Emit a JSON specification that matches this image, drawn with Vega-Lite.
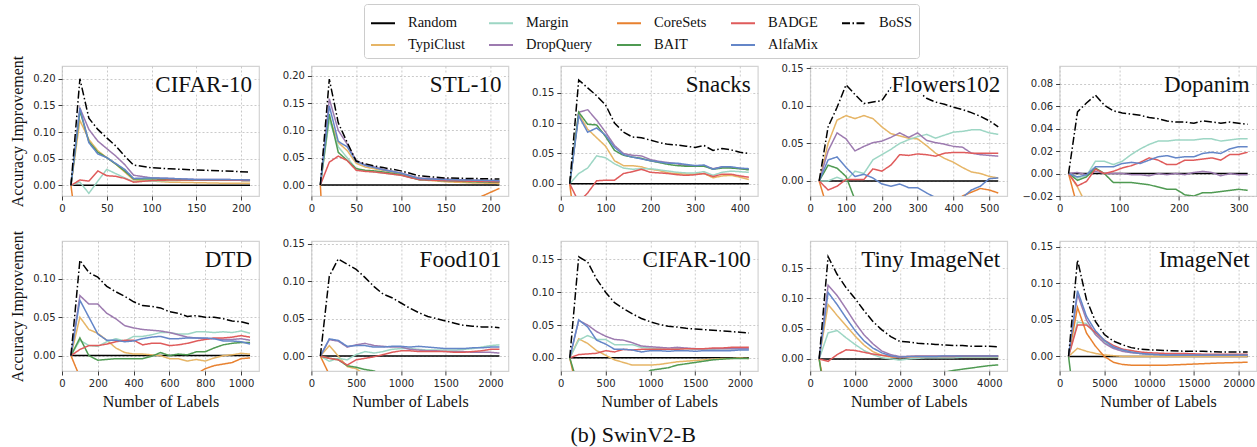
{
"$schema": "https://vega.github.io/schema/vega-lite/v6.json",
"padding": {"left": 9, "top": 3, "right": 0, "bottom": 2},
"background": "white",
"datasets": {"all": [
{"d":"CIFAR-10","x":10,"Random":0,"TypiClust":0,"Margin":0,"DropQuery":0,"CoreSets":0,"BAIT":0,"BADGE":0,"AlfaMix":0,"BoSS":0},
{"d":"CIFAR-10","x":20,"Random":0,"TypiClust":0.122,"Margin":0.006,"DropQuery":0.145,"CoreSets":-0.13,"BAIT":0.14,"BADGE":0.01,"AlfaMix":0.145,"BoSS":0.2},
{"d":"CIFAR-10","x":30,"Random":0,"TypiClust":0.086,"Margin":-0.015,"DropQuery":0.105,"CoreSets":-0.1,"BAIT":0.082,"BADGE":0.008,"AlfaMix":0.08,"BoSS":0.126},
{"d":"CIFAR-10","x":40,"Random":0,"TypiClust":0.065,"Margin":0.008,"DropQuery":0.083,"CoreSets":-0.08,"BAIT":0.062,"BADGE":0.027,"AlfaMix":0.059,"BoSS":0.105},
{"d":"CIFAR-10","x":50,"Random":0,"TypiClust":0.052,"Margin":0.03,"DropQuery":0.069,"CoreSets":-0.07,"BAIT":0.052,"BADGE":0.018,"AlfaMix":0.052,"BoSS":0.089},
{"d":"CIFAR-10","x":60,"Random":0,"TypiClust":0.04,"Margin":0.022,"DropQuery":0.055,"CoreSets":-0.06,"BAIT":0.04,"BADGE":0.017,"AlfaMix":0.041,"BoSS":0.074},
{"d":"CIFAR-10","x":70,"Random":0,"TypiClust":0.025,"Margin":0.014,"DropQuery":0.039,"CoreSets":-0.05,"BAIT":0.027,"BADGE":0.013,"AlfaMix":0.03,"BoSS":0.055},
{"d":"CIFAR-10","x":80,"Random":0,"TypiClust":0.01,"Margin":0.007,"DropQuery":0.019,"CoreSets":-0.045,"BAIT":0.012,"BADGE":0.006,"AlfaMix":0.013,"BoSS":0.038},
{"d":"CIFAR-10","x":100,"Random":0,"TypiClust":0.008,"Margin":0.008,"DropQuery":0.014,"CoreSets":-0.04,"BAIT":0.012,"BADGE":0.009,"AlfaMix":0.014,"BoSS":0.033},
{"d":"CIFAR-10","x":120,"Random":0,"TypiClust":0.006,"Margin":0.009,"DropQuery":0.013,"CoreSets":-0.035,"BAIT":0.011,"BADGE":0.01,"AlfaMix":0.013,"BoSS":0.031},
{"d":"CIFAR-10","x":150,"Random":0,"TypiClust":0.005,"Margin":0.01,"DropQuery":0.011,"CoreSets":-0.03,"BAIT":0.01,"BADGE":0.01,"AlfaMix":0.011,"BoSS":0.029},
{"d":"CIFAR-10","x":180,"Random":0,"TypiClust":0.004,"Margin":0.01,"DropQuery":0.011,"CoreSets":-0.03,"BAIT":0.01,"BADGE":0.01,"AlfaMix":0.011,"BoSS":0.027},
{"d":"CIFAR-10","x":210,"Random":0,"TypiClust":0.004,"Margin":0.009,"DropQuery":0.01,"CoreSets":-0.03,"BAIT":0.009,"BADGE":0.009,"AlfaMix":0.01,"BoSS":0.025},

{"d":"STL-10","x":10,"Random":0,"TypiClust":0,"Margin":0,"DropQuery":0,"CoreSets":0,"BAIT":0,"BADGE":0,"AlfaMix":0,"BoSS":0},
{"d":"STL-10","x":20,"Random":0,"TypiClust":0.124,"Margin":0.12,"DropQuery":0.158,"CoreSets":-0.3,"BAIT":0.13,"BADGE":0.042,"AlfaMix":0.145,"BoSS":0.194},
{"d":"STL-10","x":30,"Random":0,"TypiClust":0.078,"Margin":0.07,"DropQuery":0.1,"CoreSets":-0.25,"BAIT":0.06,"BADGE":0.053,"AlfaMix":0.08,"BoSS":0.114},
{"d":"STL-10","x":40,"Random":0,"TypiClust":0.063,"Margin":0.05,"DropQuery":0.075,"CoreSets":-0.22,"BAIT":0.045,"BADGE":0.045,"AlfaMix":0.07,"BoSS":0.078},
{"d":"STL-10","x":50,"Random":0,"TypiClust":0.04,"Margin":0.03,"DropQuery":0.045,"CoreSets":-0.2,"BAIT":0.03,"BADGE":0.027,"AlfaMix":0.043,"BoSS":0.044},
{"d":"STL-10","x":60,"Random":0,"TypiClust":0.033,"Margin":0.026,"DropQuery":0.037,"CoreSets":-0.18,"BAIT":0.027,"BADGE":0.025,"AlfaMix":0.036,"BoSS":0.039},
{"d":"STL-10","x":70,"Random":0,"TypiClust":0.03,"Margin":0.024,"DropQuery":0.033,"CoreSets":-0.16,"BAIT":0.026,"BADGE":0.024,"AlfaMix":0.032,"BoSS":0.035},
{"d":"STL-10","x":80,"Random":0,"TypiClust":0.027,"Margin":0.022,"DropQuery":0.029,"CoreSets":-0.14,"BAIT":0.024,"BADGE":0.022,"AlfaMix":0.028,"BoSS":0.032},
{"d":"STL-10","x":100,"Random":0,"TypiClust":0.02,"Margin":0.018,"DropQuery":0.022,"CoreSets":-0.11,"BAIT":0.019,"BADGE":0.018,"AlfaMix":0.022,"BoSS":0.026},
{"d":"STL-10","x":120,"Random":0,"TypiClust":0.01,"Margin":0.01,"DropQuery":0.013,"CoreSets":-0.09,"BAIT":0.01,"BADGE":0.01,"AlfaMix":0.012,"BoSS":0.017},
{"d":"STL-10","x":150,"Random":0,"TypiClust":0.006,"Margin":0.008,"DropQuery":0.011,"CoreSets":-0.06,"BAIT":0.008,"BADGE":0.008,"AlfaMix":0.01,"BoSS":0.013},
{"d":"STL-10","x":180,"Random":0,"TypiClust":0.004,"Margin":0.007,"DropQuery":0.009,"CoreSets":-0.028,"BAIT":0.006,"BADGE":0.007,"AlfaMix":0.009,"BoSS":0.012},
{"d":"STL-10","x":210,"Random":0,"TypiClust":0.003,"Margin":0.006,"DropQuery":0.008,"CoreSets":-0.006,"BAIT":0.005,"BADGE":0.006,"AlfaMix":0.008,"BoSS":0.011},

{"d":"Snacks","x":20,"Random":0,"TypiClust":0,"Margin":0,"DropQuery":0,"CoreSets":0,"BAIT":0,"BADGE":0,"AlfaMix":0,"BoSS":0},
{"d":"Snacks","x":40,"Random":0,"TypiClust":0.115,"Margin":0.017,"DropQuery":0.118,"CoreSets":-0.12,"BAIT":0.118,"BADGE":-0.03,"AlfaMix":0.112,"BoSS":0.171},
{"d":"Snacks","x":60,"Random":0,"TypiClust":0.09,"Margin":0.026,"DropQuery":0.122,"CoreSets":-0.1,"BAIT":0.098,"BADGE":-0.015,"AlfaMix":0.085,"BoSS":0.158},
{"d":"Snacks","x":80,"Random":0,"TypiClust":0.076,"Margin":0.046,"DropQuery":0.105,"CoreSets":-0.09,"BAIT":0.097,"BADGE":0.005,"AlfaMix":0.092,"BoSS":0.145},
{"d":"Snacks","x":100,"Random":0,"TypiClust":0.062,"Margin":0.043,"DropQuery":0.085,"CoreSets":-0.08,"BAIT":0.078,"BADGE":0.006,"AlfaMix":0.08,"BoSS":0.13},
{"d":"Snacks","x":120,"Random":0,"TypiClust":0.038,"Margin":0.033,"DropQuery":0.063,"CoreSets":-0.08,"BAIT":0.055,"BADGE":0.006,"AlfaMix":0.06,"BoSS":0.1},
{"d":"Snacks","x":140,"Random":0,"TypiClust":0.03,"Margin":0.026,"DropQuery":0.05,"CoreSets":-0.07,"BAIT":0.047,"BADGE":0.017,"AlfaMix":0.048,"BoSS":0.085},
{"d":"Snacks","x":160,"Random":0,"TypiClust":0.03,"Margin":0.024,"DropQuery":0.047,"CoreSets":-0.07,"BAIT":0.044,"BADGE":0.02,"AlfaMix":0.044,"BoSS":0.077},
{"d":"Snacks","x":180,"Random":0,"TypiClust":0.028,"Margin":0.025,"DropQuery":0.046,"CoreSets":-0.07,"BAIT":0.042,"BADGE":0.024,"AlfaMix":0.041,"BoSS":0.076},
{"d":"Snacks","x":200,"Random":0,"TypiClust":0.024,"Margin":0.025,"DropQuery":0.04,"CoreSets":-0.06,"BAIT":0.038,"BADGE":0.019,"AlfaMix":0.038,"BoSS":0.072},
{"d":"Snacks","x":220,"Random":0,"TypiClust":0.022,"Margin":0.023,"DropQuery":0.037,"CoreSets":-0.06,"BAIT":0.035,"BADGE":0.018,"AlfaMix":0.036,"BoSS":0.068},
{"d":"Snacks","x":240,"Random":0,"TypiClust":0.018,"Margin":0.021,"DropQuery":0.035,"CoreSets":-0.06,"BAIT":0.032,"BADGE":0.017,"AlfaMix":0.034,"BoSS":0.065},
{"d":"Snacks","x":260,"Random":0,"TypiClust":0.017,"Margin":0.019,"DropQuery":0.033,"CoreSets":-0.06,"BAIT":0.03,"BADGE":0.015,"AlfaMix":0.034,"BoSS":0.064},
{"d":"Snacks","x":280,"Random":0,"TypiClust":0.016,"Margin":0.018,"DropQuery":0.03,"CoreSets":-0.05,"BAIT":0.029,"BADGE":0.014,"AlfaMix":0.032,"BoSS":0.062},
{"d":"Snacks","x":300,"Random":0,"TypiClust":0.016,"Margin":0.018,"DropQuery":0.029,"CoreSets":-0.05,"BAIT":0.029,"BADGE":0.015,"AlfaMix":0.03,"BoSS":0.06},
{"d":"Snacks","x":320,"Random":0,"TypiClust":0.017,"Margin":0.02,"DropQuery":0.03,"CoreSets":-0.05,"BAIT":0.029,"BADGE":0.017,"AlfaMix":0.031,"BoSS":0.063},
{"d":"Snacks","x":340,"Random":0,"TypiClust":0.01,"Margin":0.014,"DropQuery":0.025,"CoreSets":-0.05,"BAIT":0.024,"BADGE":0.012,"AlfaMix":0.024,"BoSS":0.055},
{"d":"Snacks","x":360,"Random":0,"TypiClust":0.013,"Margin":0.019,"DropQuery":0.028,"CoreSets":-0.05,"BAIT":0.026,"BADGE":0.016,"AlfaMix":0.028,"BoSS":0.058},
{"d":"Snacks","x":380,"Random":0,"TypiClust":0.014,"Margin":0.021,"DropQuery":0.027,"CoreSets":-0.05,"BAIT":0.026,"BADGE":0.016,"AlfaMix":0.028,"BoSS":0.056},
{"d":"Snacks","x":400,"Random":0,"TypiClust":0.011,"Margin":0.02,"DropQuery":0.025,"CoreSets":-0.05,"BAIT":0.025,"BADGE":0.013,"AlfaMix":0.026,"BoSS":0.052},
{"d":"Snacks","x":420,"Random":0,"TypiClust":0.007,"Margin":0.019,"DropQuery":0.024,"CoreSets":-0.05,"BAIT":0.023,"BADGE":0.011,"AlfaMix":0.025,"BoSS":0.05},

{"d":"Flowers102","x":25,"Random":0,"TypiClust":0,"Margin":0,"DropQuery":0,"CoreSets":0,"BAIT":0,"BADGE":0,"AlfaMix":0,"BoSS":0},
{"d":"Flowers102","x":50,"Random":0,"TypiClust":0.05,"Margin":0,"DropQuery":0.04,"CoreSets":-0.04,"BAIT":0.021,"BADGE":-0.012,"AlfaMix":0.028,"BoSS":0.072},
{"d":"Flowers102","x":75,"Random":0,"TypiClust":0.081,"Margin":0.005,"DropQuery":0.064,"CoreSets":-0.05,"BAIT":0.017,"BADGE":-0.007,"AlfaMix":0.032,"BoSS":0.098},
{"d":"Flowers102","x":100,"Random":0,"TypiClust":0.087,"Margin":0,"DropQuery":0.056,"CoreSets":-0.05,"BAIT":0.006,"BADGE":0.002,"AlfaMix":0.018,"BoSS":0.128},
{"d":"Flowers102","x":125,"Random":0,"TypiClust":0.083,"Margin":0.013,"DropQuery":0.04,"CoreSets":-0.05,"BAIT":-0.025,"BADGE":0.002,"AlfaMix":0.006,"BoSS":0.115},
{"d":"Flowers102","x":150,"Random":0,"TypiClust":0.087,"Margin":0.01,"DropQuery":0.046,"CoreSets":-0.05,"BAIT":-0.05,"BADGE":0.002,"AlfaMix":0.009,"BoSS":0.103},
{"d":"Flowers102","x":175,"Random":0,"TypiClust":0.083,"Margin":0.028,"DropQuery":0.051,"CoreSets":-0.05,"BAIT":-0.05,"BADGE":0.016,"AlfaMix":0.004,"BoSS":0.105},
{"d":"Flowers102","x":200,"Random":0,"TypiClust":0.072,"Margin":0.035,"DropQuery":0.053,"CoreSets":-0.05,"BAIT":-0.05,"BADGE":0.013,"AlfaMix":-0.004,"BoSS":0.107},
{"d":"Flowers102","x":225,"Random":0,"TypiClust":0.063,"Margin":0.042,"DropQuery":0.058,"CoreSets":-0.05,"BAIT":-0.05,"BADGE":0.021,"AlfaMix":-0.007,"BoSS":0.124},
{"d":"Flowers102","x":250,"Random":0,"TypiClust":0.06,"Margin":0.05,"DropQuery":0.064,"CoreSets":-0.05,"BAIT":-0.05,"BADGE":0.035,"AlfaMix":-0.004,"BoSS":0.132},
{"d":"Flowers102","x":275,"Random":0,"TypiClust":0.057,"Margin":0.055,"DropQuery":0.058,"CoreSets":-0.05,"BAIT":-0.05,"BADGE":0.034,"AlfaMix":-0.009,"BoSS":0.13},
{"d":"Flowers102","x":300,"Random":0,"TypiClust":0.056,"Margin":0.059,"DropQuery":0.064,"CoreSets":-0.05,"BAIT":-0.05,"BADGE":0.036,"AlfaMix":-0.009,"BoSS":0.12},
{"d":"Flowers102","x":325,"Random":0,"TypiClust":0.047,"Margin":0.062,"DropQuery":0.054,"CoreSets":-0.05,"BAIT":-0.05,"BADGE":0.035,"AlfaMix":-0.016,"BoSS":0.11},
{"d":"Flowers102","x":350,"Random":0,"TypiClust":0.037,"Margin":0.057,"DropQuery":0.051,"CoreSets":-0.05,"BAIT":-0.05,"BADGE":0.033,"AlfaMix":-0.022,"BoSS":0.105},
{"d":"Flowers102","x":375,"Random":0,"TypiClust":0.03,"Margin":0.061,"DropQuery":0.049,"CoreSets":-0.05,"BAIT":-0.05,"BADGE":0.037,"AlfaMix":-0.03,"BoSS":0.102},
{"d":"Flowers102","x":400,"Random":0,"TypiClust":0.025,"Margin":0.065,"DropQuery":0.046,"CoreSets":-0.05,"BAIT":-0.05,"BADGE":0.038,"AlfaMix":-0.03,"BoSS":0.098},
{"d":"Flowers102","x":425,"Random":0,"TypiClust":0.018,"Margin":0.066,"DropQuery":0.045,"CoreSets":-0.02,"BAIT":-0.05,"BADGE":0.038,"AlfaMix":-0.022,"BoSS":0.095},
{"d":"Flowers102","x":450,"Random":0,"TypiClust":0.012,"Margin":0.068,"DropQuery":0.037,"CoreSets":-0.015,"BAIT":-0.05,"BADGE":0.037,"AlfaMix":-0.012,"BoSS":0.091},
{"d":"Flowers102","x":475,"Random":0,"TypiClust":0.01,"Margin":0.068,"DropQuery":0.035,"CoreSets":-0.01,"BAIT":-0.05,"BADGE":0.037,"AlfaMix":-0.007,"BoSS":0.086},
{"d":"Flowers102","x":500,"Random":0,"TypiClust":0.006,"Margin":0.064,"DropQuery":0.034,"CoreSets":-0.012,"BAIT":-0.05,"BADGE":0.037,"AlfaMix":0.003,"BoSS":0.08},
{"d":"Flowers102","x":525,"Random":0,"TypiClust":0.004,"Margin":0.062,"DropQuery":0.033,"CoreSets":-0.016,"BAIT":-0.05,"BADGE":0.037,"AlfaMix":0.004,"BoSS":0.072},

{"d":"Dopanim","x":15,"Random":0,"TypiClust":0,"Margin":0,"DropQuery":0,"CoreSets":0,"BAIT":0,"BADGE":0,"AlfaMix":0,"BoSS":0},
{"d":"Dopanim","x":30,"Random":0,"TypiClust":-0.012,"Margin":-0.004,"DropQuery":0.001,"CoreSets":-0.03,"BAIT":-0.006,"BADGE":-0.011,"AlfaMix":-0.003,"BoSS":0.055},
{"d":"Dopanim","x":45,"Random":0,"TypiClust":-0.028,"Margin":-0.002,"DropQuery":-0.001,"CoreSets":-0.05,"BAIT":-0.003,"BADGE":-0.007,"AlfaMix":-0.001,"BoSS":0.063},
{"d":"Dopanim","x":60,"Random":0,"TypiClust":-0.04,"Margin":0.011,"DropQuery":0.002,"CoreSets":-0.05,"BAIT":0.005,"BADGE":0.004,"AlfaMix":0.006,"BoSS":0.07},
{"d":"Dopanim","x":75,"Random":0,"TypiClust":-0.05,"Margin":0.011,"DropQuery":0,"CoreSets":-0.05,"BAIT":0,"BADGE":0,"AlfaMix":0.006,"BoSS":0.061},
{"d":"Dopanim","x":90,"Random":0,"TypiClust":-0.05,"Margin":0.008,"DropQuery":0,"CoreSets":-0.05,"BAIT":-0.008,"BADGE":0.002,"AlfaMix":0.006,"BoSS":0.056},
{"d":"Dopanim","x":105,"Random":0,"TypiClust":-0.05,"Margin":0.011,"DropQuery":0,"CoreSets":-0.05,"BAIT":-0.008,"BADGE":0.005,"AlfaMix":0.009,"BoSS":0.054},
{"d":"Dopanim","x":120,"Random":0,"TypiClust":-0.05,"Margin":0.017,"DropQuery":-0.001,"CoreSets":-0.05,"BAIT":-0.008,"BADGE":0.007,"AlfaMix":0.01,"BoSS":0.053},
{"d":"Dopanim","x":135,"Random":0,"TypiClust":-0.05,"Margin":0.022,"DropQuery":-0.001,"CoreSets":-0.05,"BAIT":-0.009,"BADGE":0.01,"AlfaMix":0.009,"BoSS":0.052},
{"d":"Dopanim","x":150,"Random":0,"TypiClust":-0.05,"Margin":0.026,"DropQuery":-0.002,"CoreSets":-0.05,"BAIT":-0.01,"BADGE":0.014,"AlfaMix":0.012,"BoSS":0.05},
{"d":"Dopanim","x":165,"Random":0,"TypiClust":-0.05,"Margin":0.029,"DropQuery":0,"CoreSets":-0.05,"BAIT":-0.012,"BADGE":0.012,"AlfaMix":0.015,"BoSS":0.049},
{"d":"Dopanim","x":180,"Random":0,"TypiClust":-0.05,"Margin":0.029,"DropQuery":-0.001,"CoreSets":-0.05,"BAIT":-0.014,"BADGE":0.008,"AlfaMix":0.016,"BoSS":0.047},
{"d":"Dopanim","x":195,"Random":0,"TypiClust":-0.05,"Margin":0.03,"DropQuery":0,"CoreSets":-0.05,"BAIT":-0.014,"BADGE":0.008,"AlfaMix":0.014,"BoSS":0.046},
{"d":"Dopanim","x":210,"Random":0,"TypiClust":-0.05,"Margin":0.03,"DropQuery":-0.001,"CoreSets":-0.05,"BAIT":-0.019,"BADGE":0.012,"AlfaMix":0.015,"BoSS":0.046},
{"d":"Dopanim","x":225,"Random":0,"TypiClust":-0.05,"Margin":0.03,"DropQuery":0.001,"CoreSets":-0.05,"BAIT":-0.02,"BADGE":0.012,"AlfaMix":0.015,"BoSS":0.045},
{"d":"Dopanim","x":240,"Random":0,"TypiClust":-0.05,"Margin":0.031,"DropQuery":0.002,"CoreSets":-0.05,"BAIT":-0.017,"BADGE":0.013,"AlfaMix":0.018,"BoSS":0.047},
{"d":"Dopanim","x":255,"Random":0,"TypiClust":-0.05,"Margin":0.031,"DropQuery":0.001,"CoreSets":-0.05,"BAIT":-0.017,"BADGE":0.014,"AlfaMix":0.019,"BoSS":0.046},
{"d":"Dopanim","x":270,"Random":0,"TypiClust":-0.05,"Margin":0.029,"DropQuery":-0.002,"CoreSets":-0.05,"BAIT":-0.016,"BADGE":0.012,"AlfaMix":0.018,"BoSS":0.045},
{"d":"Dopanim","x":285,"Random":0,"TypiClust":-0.05,"Margin":0.03,"DropQuery":0,"CoreSets":-0.05,"BAIT":-0.015,"BADGE":0.017,"AlfaMix":0.022,"BoSS":0.046},
{"d":"Dopanim","x":300,"Random":0,"TypiClust":-0.05,"Margin":0.031,"DropQuery":-0.001,"CoreSets":-0.05,"BAIT":-0.014,"BADGE":0.017,"AlfaMix":0.024,"BoSS":0.045},
{"d":"Dopanim","x":315,"Random":0,"TypiClust":-0.05,"Margin":0.031,"DropQuery":-0.001,"CoreSets":-0.05,"BAIT":-0.015,"BADGE":0.019,"AlfaMix":0.024,"BoSS":0.044},

{"d":"DTD","x":50,"Random":0,"TypiClust":0,"Margin":0,"DropQuery":0,"CoreSets":0,"BAIT":0,"BADGE":0,"AlfaMix":0,"BoSS":0},
{"d":"DTD","x":100,"Random":0,"TypiClust":0.05,"Margin":0.02,"DropQuery":0.078,"CoreSets":-0.028,"BAIT":0.023,"BADGE":0.008,"AlfaMix":0.072,"BoSS":0.124},
{"d":"DTD","x":150,"Random":0,"TypiClust":0.034,"Margin":0.013,"DropQuery":0.067,"CoreSets":-0.05,"BAIT":0,"BADGE":0.013,"AlfaMix":0.05,"BoSS":0.108},
{"d":"DTD","x":200,"Random":0,"TypiClust":0.029,"Margin":0.012,"DropQuery":0.067,"CoreSets":-0.05,"BAIT":-0.006,"BADGE":0.013,"AlfaMix":0.028,"BoSS":0.102},
{"d":"DTD","x":250,"Random":0,"TypiClust":0.02,"Margin":0.018,"DropQuery":0.055,"CoreSets":-0.05,"BAIT":-0.005,"BADGE":0.015,"AlfaMix":0.02,"BoSS":0.09},
{"d":"DTD","x":300,"Random":0,"TypiClust":0.01,"Margin":0.022,"DropQuery":0.048,"CoreSets":-0.05,"BAIT":-0.004,"BADGE":0.018,"AlfaMix":0.02,"BoSS":0.083},
{"d":"DTD","x":350,"Random":0,"TypiClust":0.004,"Margin":0.019,"DropQuery":0.039,"CoreSets":-0.05,"BAIT":-0.004,"BADGE":0.02,"AlfaMix":0.018,"BoSS":0.077},
{"d":"DTD","x":400,"Random":0,"TypiClust":0.002,"Margin":0.025,"DropQuery":0.036,"CoreSets":-0.05,"BAIT":-0.004,"BADGE":0.02,"AlfaMix":0.019,"BoSS":0.07},
{"d":"DTD","x":450,"Random":0,"TypiClust":0.002,"Margin":0.025,"DropQuery":0.034,"CoreSets":-0.05,"BAIT":-0.004,"BADGE":0.014,"AlfaMix":0.022,"BoSS":0.065},
{"d":"DTD","x":500,"Random":0,"TypiClust":0.001,"Margin":0.027,"DropQuery":0.033,"CoreSets":-0.05,"BAIT":-0.001,"BADGE":0.016,"AlfaMix":0.024,"BoSS":0.064},
{"d":"DTD","x":550,"Random":0,"TypiClust":0,"Margin":0.03,"DropQuery":0.032,"CoreSets":-0.05,"BAIT":0.004,"BADGE":0.016,"AlfaMix":0.025,"BoSS":0.062},
{"d":"DTD","x":600,"Random":0,"TypiClust":-0.004,"Margin":0.03,"DropQuery":0.03,"CoreSets":-0.05,"BAIT":0,"BADGE":0.013,"AlfaMix":0.022,"BoSS":0.057},
{"d":"DTD","x":650,"Random":0,"TypiClust":-0.004,"Margin":0.028,"DropQuery":0.027,"CoreSets":-0.05,"BAIT":0.002,"BADGE":0.014,"AlfaMix":0.022,"BoSS":0.055},
{"d":"DTD","x":700,"Random":0,"TypiClust":-0.007,"Margin":0.028,"DropQuery":0.024,"CoreSets":-0.04,"BAIT":0.001,"BADGE":0.016,"AlfaMix":0.023,"BoSS":0.051},
{"d":"DTD","x":750,"Random":0,"TypiClust":-0.005,"Margin":0.031,"DropQuery":0.023,"CoreSets":-0.024,"BAIT":0.005,"BADGE":0.019,"AlfaMix":0.023,"BoSS":0.052},
{"d":"DTD","x":800,"Random":0,"TypiClust":-0.007,"Margin":0.031,"DropQuery":0.022,"CoreSets":-0.017,"BAIT":0.005,"BADGE":0.021,"AlfaMix":0.023,"BoSS":0.05},
{"d":"DTD","x":850,"Random":0,"TypiClust":-0.003,"Margin":0.03,"DropQuery":0.022,"CoreSets":-0.013,"BAIT":0.01,"BADGE":0.023,"AlfaMix":0.022,"BoSS":0.05},
{"d":"DTD","x":900,"Random":0,"TypiClust":0,"Margin":0.031,"DropQuery":0.021,"CoreSets":-0.011,"BAIT":0.014,"BADGE":0.023,"AlfaMix":0.019,"BoSS":0.048},
{"d":"DTD","x":950,"Random":0,"TypiClust":0.001,"Margin":0.03,"DropQuery":0.021,"CoreSets":-0.009,"BAIT":0.016,"BADGE":0.024,"AlfaMix":0.019,"BoSS":0.045},
{"d":"DTD","x":1000,"Random":0,"TypiClust":0.003,"Margin":0.032,"DropQuery":0.022,"CoreSets":-0.004,"BAIT":0.017,"BADGE":0.026,"AlfaMix":0.018,"BoSS":0.044},
{"d":"DTD","x":1050,"Random":0,"TypiClust":0.002,"Margin":0.029,"DropQuery":0.02,"CoreSets":-0.003,"BAIT":0.017,"BADGE":0.024,"AlfaMix":0.015,"BoSS":0.041},

{"d":"Food101","x":100,"Random":0,"TypiClust":0,"Margin":0,"DropQuery":0,"CoreSets":0,"BAIT":0,"BADGE":0,"AlfaMix":0,"BoSS":0},
{"d":"Food101","x":200,"Random":0,"TypiClust":0.014,"Margin":-0.007,"DropQuery":0.022,"CoreSets":-0.025,"BAIT":-0.003,"BADGE":-0.003,"AlfaMix":0.023,"BoSS":0.107},
{"d":"Food101","x":300,"Random":0,"TypiClust":0,"Margin":-0.003,"DropQuery":0.02,"CoreSets":-0.04,"BAIT":-0.005,"BADGE":-0.005,"AlfaMix":0.021,"BoSS":0.13},
{"d":"Food101","x":400,"Random":0,"TypiClust":-0.014,"Margin":-0.005,"DropQuery":0.012,"CoreSets":-0.05,"BAIT":-0.013,"BADGE":-0.012,"AlfaMix":0.013,"BoSS":0.123},
{"d":"Food101","x":500,"Random":0,"TypiClust":-0.017,"Margin":0.002,"DropQuery":0.015,"CoreSets":-0.05,"BAIT":-0.015,"BADGE":-0.005,"AlfaMix":0.014,"BoSS":0.116},
{"d":"Food101","x":600,"Random":0,"TypiClust":-0.025,"Margin":0.006,"DropQuery":0.017,"CoreSets":-0.05,"BAIT":-0.018,"BADGE":-0.003,"AlfaMix":0.014,"BoSS":0.105},
{"d":"Food101","x":700,"Random":0,"TypiClust":-0.03,"Margin":0.004,"DropQuery":0.014,"CoreSets":-0.05,"BAIT":-0.02,"BADGE":-0.001,"AlfaMix":0.012,"BoSS":0.093},
{"d":"Food101","x":800,"Random":0,"TypiClust":-0.035,"Margin":0.006,"DropQuery":0.013,"CoreSets":-0.05,"BAIT":-0.025,"BADGE":0.002,"AlfaMix":0.012,"BoSS":0.083},
{"d":"Food101","x":900,"Random":0,"TypiClust":-0.04,"Margin":0.009,"DropQuery":0.012,"CoreSets":-0.05,"BAIT":-0.03,"BADGE":0.005,"AlfaMix":0.013,"BoSS":0.078},
{"d":"Food101","x":1000,"Random":0,"TypiClust":-0.04,"Margin":0.01,"DropQuery":0.012,"CoreSets":-0.05,"BAIT":-0.035,"BADGE":0.007,"AlfaMix":0.013,"BoSS":0.071},
{"d":"Food101","x":1100,"Random":0,"TypiClust":-0.04,"Margin":0.01,"DropQuery":0.009,"CoreSets":-0.05,"BAIT":-0.035,"BADGE":0.007,"AlfaMix":0.012,"BoSS":0.064},
{"d":"Food101","x":1200,"Random":0,"TypiClust":-0.04,"Margin":0.009,"DropQuery":0.008,"CoreSets":-0.05,"BAIT":-0.035,"BADGE":0.006,"AlfaMix":0.013,"BoSS":0.058},
{"d":"Food101","x":1300,"Random":0,"TypiClust":-0.04,"Margin":0.008,"DropQuery":0.007,"CoreSets":-0.05,"BAIT":-0.035,"BADGE":0.006,"AlfaMix":0.012,"BoSS":0.053},
{"d":"Food101","x":1400,"Random":0,"TypiClust":-0.04,"Margin":0.008,"DropQuery":0.007,"CoreSets":-0.05,"BAIT":-0.035,"BADGE":0.006,"AlfaMix":0.011,"BoSS":0.05},
{"d":"Food101","x":1500,"Random":0,"TypiClust":-0.04,"Margin":0.008,"DropQuery":0.006,"CoreSets":-0.05,"BAIT":-0.035,"BADGE":0.006,"AlfaMix":0.01,"BoSS":0.047},
{"d":"Food101","x":1600,"Random":0,"TypiClust":-0.04,"Margin":0.008,"DropQuery":0.006,"CoreSets":-0.05,"BAIT":-0.035,"BADGE":0.005,"AlfaMix":0.01,"BoSS":0.044},
{"d":"Food101","x":1700,"Random":0,"TypiClust":-0.04,"Margin":0.009,"DropQuery":0.006,"CoreSets":-0.05,"BAIT":-0.035,"BADGE":0.005,"AlfaMix":0.01,"BoSS":0.041},
{"d":"Food101","x":1800,"Random":0,"TypiClust":-0.04,"Margin":0.01,"DropQuery":0.005,"CoreSets":-0.05,"BAIT":-0.035,"BADGE":0.006,"AlfaMix":0.011,"BoSS":0.04},
{"d":"Food101","x":1900,"Random":0,"TypiClust":-0.04,"Margin":0.012,"DropQuery":0.005,"CoreSets":-0.05,"BAIT":-0.035,"BADGE":0.007,"AlfaMix":0.011,"BoSS":0.039},
{"d":"Food101","x":2000,"Random":0,"TypiClust":-0.04,"Margin":0.014,"DropQuery":0.005,"CoreSets":-0.05,"BAIT":-0.035,"BADGE":0.009,"AlfaMix":0.012,"BoSS":0.039},
{"d":"Food101","x":2100,"Random":0,"TypiClust":-0.04,"Margin":0.015,"DropQuery":0.004,"CoreSets":-0.05,"BAIT":-0.035,"BADGE":0.009,"AlfaMix":0.012,"BoSS":0.038},

{"d":"CIFAR-100","x":100,"Random":0,"TypiClust":0,"Margin":0,"DropQuery":0,"CoreSets":0,"BAIT":0,"BADGE":0,"AlfaMix":0,"BoSS":0},
{"d":"CIFAR-100","x":200,"Random":0,"TypiClust":0.029,"Margin":0.027,"DropQuery":0.057,"CoreSets":-0.06,"BAIT":-0.045,"BADGE":0.005,"AlfaMix":0.058,"BoSS":0.154},
{"d":"CIFAR-100","x":300,"Random":0,"TypiClust":0.022,"Margin":0.034,"DropQuery":0.05,"CoreSets":-0.06,"BAIT":-0.05,"BADGE":0.006,"AlfaMix":0.047,"BoSS":0.146},
{"d":"CIFAR-100","x":400,"Random":0,"TypiClust":0.011,"Margin":0.028,"DropQuery":0.04,"CoreSets":-0.06,"BAIT":-0.05,"BADGE":0.007,"AlfaMix":0.027,"BoSS":0.12},
{"d":"CIFAR-100","x":500,"Random":0,"TypiClust":0.004,"Margin":0.028,"DropQuery":0.033,"CoreSets":-0.06,"BAIT":-0.05,"BADGE":0.011,"AlfaMix":0.021,"BoSS":0.1},
{"d":"CIFAR-100","x":600,"Random":0,"TypiClust":-0.003,"Margin":0.02,"DropQuery":0.028,"CoreSets":-0.06,"BAIT":-0.05,"BADGE":0.009,"AlfaMix":0.013,"BoSS":0.084},
{"d":"CIFAR-100","x":700,"Random":0,"TypiClust":-0.007,"Margin":0.02,"DropQuery":0.027,"CoreSets":-0.06,"BAIT":-0.045,"BADGE":0.013,"AlfaMix":0.013,"BoSS":0.075},
{"d":"CIFAR-100","x":800,"Random":0,"TypiClust":-0.011,"Margin":0.02,"DropQuery":0.023,"CoreSets":-0.06,"BAIT":-0.04,"BADGE":0.012,"AlfaMix":0.012,"BoSS":0.067},
{"d":"CIFAR-100","x":900,"Random":0,"TypiClust":-0.011,"Margin":0.016,"DropQuery":0.018,"CoreSets":-0.06,"BAIT":-0.03,"BADGE":0.013,"AlfaMix":0.009,"BoSS":0.06},
{"d":"CIFAR-100","x":1000,"Random":0,"TypiClust":-0.011,"Margin":0.015,"DropQuery":0.017,"CoreSets":-0.06,"BAIT":-0.019,"BADGE":0.013,"AlfaMix":0.011,"BoSS":0.055},
{"d":"CIFAR-100","x":1100,"Random":0,"TypiClust":-0.01,"Margin":0.014,"DropQuery":0.016,"CoreSets":-0.06,"BAIT":-0.017,"BADGE":0.013,"AlfaMix":0.011,"BoSS":0.051},
{"d":"CIFAR-100","x":1200,"Random":0,"TypiClust":-0.008,"Margin":0.013,"DropQuery":0.015,"CoreSets":-0.06,"BAIT":-0.015,"BADGE":0.013,"AlfaMix":0.01,"BoSS":0.048},
{"d":"CIFAR-100","x":1300,"Random":0,"TypiClust":-0.006,"Margin":0.014,"DropQuery":0.016,"CoreSets":-0.06,"BAIT":-0.011,"BADGE":0.013,"AlfaMix":0.011,"BoSS":0.047},
{"d":"CIFAR-100","x":1400,"Random":0,"TypiClust":-0.005,"Margin":0.014,"DropQuery":0.015,"CoreSets":-0.06,"BAIT":-0.009,"BADGE":0.014,"AlfaMix":0.011,"BoSS":0.045},
{"d":"CIFAR-100","x":1500,"Random":0,"TypiClust":-0.004,"Margin":0.013,"DropQuery":0.014,"CoreSets":-0.06,"BAIT":-0.007,"BADGE":0.014,"AlfaMix":0.01,"BoSS":0.044},
{"d":"CIFAR-100","x":1600,"Random":0,"TypiClust":-0.003,"Margin":0.013,"DropQuery":0.014,"CoreSets":-0.06,"BAIT":-0.005,"BADGE":0.014,"AlfaMix":0.011,"BoSS":0.043},
{"d":"CIFAR-100","x":1700,"Random":0,"TypiClust":-0.002,"Margin":0.013,"DropQuery":0.014,"CoreSets":-0.06,"BAIT":-0.003,"BADGE":0.015,"AlfaMix":0.011,"BoSS":0.042},
{"d":"CIFAR-100","x":1800,"Random":0,"TypiClust":-0.001,"Margin":0.014,"DropQuery":0.014,"CoreSets":-0.06,"BAIT":-0.002,"BADGE":0.015,"AlfaMix":0.011,"BoSS":0.041},
{"d":"CIFAR-100","x":1900,"Random":0,"TypiClust":-0.001,"Margin":0.014,"DropQuery":0.014,"CoreSets":-0.06,"BAIT":-0.001,"BADGE":0.016,"AlfaMix":0.011,"BoSS":0.04},
{"d":"CIFAR-100","x":2000,"Random":0,"TypiClust":0,"Margin":0.014,"DropQuery":0.014,"CoreSets":-0.06,"BAIT":-0.001,"BADGE":0.016,"AlfaMix":0.012,"BoSS":0.039},
{"d":"CIFAR-100","x":2100,"Random":0,"TypiClust":-0.001,"Margin":0.014,"DropQuery":0.014,"CoreSets":-0.06,"BAIT":-0.001,"BADGE":0.016,"AlfaMix":0.012,"BoSS":0.038},

{"d":"Tiny ImageNet","x":200,"Random":0,"TypiClust":0,"Margin":0,"DropQuery":0,"CoreSets":0,"BAIT":0,"BADGE":0,"AlfaMix":0,"BoSS":0},
{"d":"Tiny ImageNet","x":400,"Random":0,"TypiClust":0.09,"Margin":0.043,"DropQuery":0.122,"CoreSets":-0.08,"BAIT":-0.1,"BADGE":-0.004,"AlfaMix":0.11,"BoSS":0.169},
{"d":"Tiny ImageNet","x":600,"Random":0,"TypiClust":0.072,"Margin":0.047,"DropQuery":0.105,"CoreSets":-0.08,"BAIT":-0.09,"BADGE":0.007,"AlfaMix":0.09,"BoSS":0.14},
{"d":"Tiny ImageNet","x":800,"Random":0,"TypiClust":0.055,"Margin":0.035,"DropQuery":0.083,"CoreSets":-0.08,"BAIT":-0.08,"BADGE":0.015,"AlfaMix":0.068,"BoSS":0.118},
{"d":"Tiny ImageNet","x":1000,"Random":0,"TypiClust":0.038,"Margin":0.024,"DropQuery":0.06,"CoreSets":-0.08,"BAIT":-0.07,"BADGE":0.014,"AlfaMix":0.047,"BoSS":0.1},
{"d":"Tiny ImageNet","x":1200,"Random":0,"TypiClust":0.023,"Margin":0.014,"DropQuery":0.04,"CoreSets":-0.08,"BAIT":-0.06,"BADGE":0.011,"AlfaMix":0.03,"BoSS":0.08},
{"d":"Tiny ImageNet","x":1400,"Random":0,"TypiClust":0.012,"Margin":0.007,"DropQuery":0.025,"CoreSets":-0.08,"BAIT":-0.055,"BADGE":0.008,"AlfaMix":0.018,"BoSS":0.062},
{"d":"Tiny ImageNet","x":1600,"Random":0,"TypiClust":0.006,"Margin":0.002,"DropQuery":0.013,"CoreSets":-0.08,"BAIT":-0.05,"BADGE":0.006,"AlfaMix":0.01,"BoSS":0.048},
{"d":"Tiny ImageNet","x":1800,"Random":0,"TypiClust":0.003,"Margin":0,"DropQuery":0.007,"CoreSets":-0.08,"BAIT":-0.045,"BADGE":0.004,"AlfaMix":0.005,"BoSS":0.037},
{"d":"Tiny ImageNet","x":2000,"Random":0,"TypiClust":0.002,"Margin":-0.002,"DropQuery":0.004,"CoreSets":-0.08,"BAIT":-0.04,"BADGE":0.003,"AlfaMix":0.003,"BoSS":0.029},
{"d":"Tiny ImageNet","x":2200,"Random":0,"TypiClust":0.003,"Margin":0,"DropQuery":0.004,"CoreSets":-0.08,"BAIT":-0.037,"BADGE":0.004,"AlfaMix":0.004,"BoSS":0.028},
{"d":"Tiny ImageNet","x":2400,"Random":0,"TypiClust":0.003,"Margin":0.001,"DropQuery":0.005,"CoreSets":-0.08,"BAIT":-0.034,"BADGE":0.004,"AlfaMix":0.004,"BoSS":0.026},
{"d":"Tiny ImageNet","x":2600,"Random":0,"TypiClust":0.003,"Margin":0.002,"DropQuery":0.005,"CoreSets":-0.08,"BAIT":-0.03,"BADGE":0.004,"AlfaMix":0.004,"BoSS":0.025},
{"d":"Tiny ImageNet","x":2800,"Random":0,"TypiClust":0.003,"Margin":0.002,"DropQuery":0.005,"CoreSets":-0.08,"BAIT":-0.026,"BADGE":0.004,"AlfaMix":0.004,"BoSS":0.024},
{"d":"Tiny ImageNet","x":3000,"Random":0,"TypiClust":0.003,"Margin":0.002,"DropQuery":0.005,"CoreSets":-0.08,"BAIT":-0.022,"BADGE":0.004,"AlfaMix":0.005,"BoSS":0.023},
{"d":"Tiny ImageNet","x":3200,"Random":0,"TypiClust":0.003,"Margin":0.002,"DropQuery":0.005,"CoreSets":-0.08,"BAIT":-0.019,"BADGE":0.004,"AlfaMix":0.005,"BoSS":0.022},
{"d":"Tiny ImageNet","x":3400,"Random":0,"TypiClust":0.003,"Margin":0.003,"DropQuery":0.005,"CoreSets":-0.08,"BAIT":-0.017,"BADGE":0.005,"AlfaMix":0.005,"BoSS":0.022},
{"d":"Tiny ImageNet","x":3600,"Random":0,"TypiClust":0.003,"Margin":0.003,"DropQuery":0.005,"CoreSets":-0.08,"BAIT":-0.015,"BADGE":0.005,"AlfaMix":0.005,"BoSS":0.021},
{"d":"Tiny ImageNet","x":3800,"Random":0,"TypiClust":0.003,"Margin":0.003,"DropQuery":0.005,"CoreSets":-0.08,"BAIT":-0.013,"BADGE":0.005,"AlfaMix":0.005,"BoSS":0.021},
{"d":"Tiny ImageNet","x":4000,"Random":0,"TypiClust":0.003,"Margin":0.003,"DropQuery":0.005,"CoreSets":-0.08,"BAIT":-0.011,"BADGE":0.005,"AlfaMix":0.005,"BoSS":0.021},
{"d":"Tiny ImageNet","x":4200,"Random":0,"TypiClust":0.003,"Margin":0.003,"DropQuery":0.005,"CoreSets":-0.08,"BAIT":-0.01,"BADGE":0.005,"AlfaMix":0.005,"BoSS":0.02},

{"d":"ImageNet","x":1000,"Random":0,"TypiClust":0,"Margin":0,"DropQuery":0,"CoreSets":0,"BAIT":0,"BADGE":0,"AlfaMix":0,"BoSS":0},
{"d":"ImageNet","x":2000,"Random":0,"TypiClust":0.011,"Margin":0.047,"DropQuery":0.085,"CoreSets":0.067,"BAIT":-0.1,"BADGE":0.043,"AlfaMix":0.09,"BoSS":0.132},
{"d":"ImageNet","x":3000,"Random":0,"TypiClust":0.007,"Margin":0.045,"DropQuery":0.05,"CoreSets":0.032,"BAIT":-0.08,"BADGE":0.043,"AlfaMix":0.055,"BoSS":0.078},
{"d":"ImageNet","x":4000,"Random":0,"TypiClust":0.004,"Margin":0.03,"DropQuery":0.03,"CoreSets":0.014,"BAIT":-0.07,"BADGE":0.033,"AlfaMix":0.035,"BoSS":0.048},
{"d":"ImageNet","x":5000,"Random":0,"TypiClust":0.002,"Margin":0.02,"DropQuery":0.018,"CoreSets":0,"BAIT":-0.06,"BADGE":0.022,"AlfaMix":0.022,"BoSS":0.03},
{"d":"ImageNet","x":6000,"Random":0,"TypiClust":0.001,"Margin":0.012,"DropQuery":0.011,"CoreSets":-0.008,"BAIT":-0.05,"BADGE":0.015,"AlfaMix":0.013,"BoSS":0.021},
{"d":"ImageNet","x":7000,"Random":0,"TypiClust":0,"Margin":0.008,"DropQuery":0.007,"CoreSets":-0.011,"BAIT":-0.05,"BADGE":0.01,"AlfaMix":0.009,"BoSS":0.016},
{"d":"ImageNet","x":8000,"Random":0,"TypiClust":0,"Margin":0.006,"DropQuery":0.005,"CoreSets":-0.012,"BAIT":-0.05,"BADGE":0.008,"AlfaMix":0.006,"BoSS":0.012},
{"d":"ImageNet","x":9000,"Random":0,"TypiClust":0,"Margin":0.004,"DropQuery":0.004,"CoreSets":-0.012,"BAIT":-0.05,"BADGE":0.006,"AlfaMix":0.004,"BoSS":0.01},
{"d":"ImageNet","x":10000,"Random":0,"TypiClust":0,"Margin":0.003,"DropQuery":0.003,"CoreSets":-0.012,"BAIT":-0.05,"BADGE":0.005,"AlfaMix":0.003,"BoSS":0.009},
{"d":"ImageNet","x":12000,"Random":0,"TypiClust":0,"Margin":0.002,"DropQuery":0.002,"CoreSets":-0.012,"BAIT":-0.05,"BADGE":0.004,"AlfaMix":0.002,"BoSS":0.008},
{"d":"ImageNet","x":14000,"Random":0,"TypiClust":0,"Margin":0.002,"DropQuery":0.002,"CoreSets":-0.011,"BAIT":-0.05,"BADGE":0.004,"AlfaMix":0.002,"BoSS":0.007},
{"d":"ImageNet","x":16000,"Random":0,"TypiClust":0,"Margin":0.002,"DropQuery":0.002,"CoreSets":-0.01,"BAIT":-0.05,"BADGE":0.003,"AlfaMix":0.002,"BoSS":0.007},
{"d":"ImageNet","x":18000,"Random":0,"TypiClust":0,"Margin":0.002,"DropQuery":0.002,"CoreSets":-0.009,"BAIT":-0.05,"BADGE":0.003,"AlfaMix":0.002,"BoSS":0.006},
{"d":"ImageNet","x":21000,"Random":0,"TypiClust":0,"Margin":0.002,"DropQuery":0.002,"CoreSets":-0.008,"BAIT":-0.05,"BADGE":0.003,"AlfaMix":0.002,"BoSS":0.006}
]},
"title": {"text": "(b) SwinV2-B", "orient": "bottom", "anchor": "middle", "offset": 15, "font": "Liberation Serif", "fontSize": 22, "fontWeight": "normal", "color": "#111111"},
"columns": 5,
"spacing": {"row": 45, "column": 52.4},
"bounds": "flush",
"concat": [
{"width":197,"height":130,
 "data":{"values":[{"x":220,"acc":0.224,"t":"CIFAR-10"}]},
 "encoding":{"x":{"field":"x","type":"quantitative","scale":{"domain":[0,220],"nice":false},"axis":{"values":[0,50,100,150,200],"format":"d","title":null}},
  "y":{"field":"acc","type":"quantitative","scale":{"domain":[-0.02,0.224],"nice":false},"axis":{"values":[0,0.05,0.1,0.15,0.2],"format":".2f","title":"Accuracy Improvement"}}},
 "layer":[
  {"data":{"name":"all"},"transform":[{"filter":"datum.d === 'CIFAR-10'"},{"fold":["Random","TypiClust","Margin","DropQuery","CoreSets","BAIT","BADGE","AlfaMix","BoSS"],"as":["m","acc"]}],
   "mark":{"type":"line","clip":true,"strokeWidth":1.5},
   "encoding":{"color":{"field":"m","type":"nominal","scale":{"domain":["Random","Margin","CoreSets","BADGE","BoSS","TypiClust","DropQuery","BAIT","AlfaMix"],"range":["#000000","#9dd6c4","#e8812f","#df5b5b","#000000","#e6b566","#9d7bb0","#4f9a52","#6486c8"]},"legend":{"title":null}},
    "strokeDash":{"field":"m","type":"nominal","scale":{"domain":["Random","Margin","CoreSets","BADGE","BoSS","TypiClust","DropQuery","BAIT","AlfaMix"],"range":[[1,0],[1,0],[1,0],[1,0],[8,2.5,1.5,2.5],[1,0],[1,0],[1,0],[1,0]]},"legend":{"title":null}}}},
  {"mark":{"type":"text","align":"right","baseline":"alphabetic","dx":-7,"dy":26,"font":"Liberation Serif","fontSize":23,"color":"#ffffff","stroke":"#ffffff","strokeWidth":6,"strokeJoin":"round"},"encoding":{"text":{"field":"t"}}},
  {"mark":{"type":"text","align":"right","baseline":"alphabetic","dx":-7,"dy":26,"font":"Liberation Serif","fontSize":23,"color":"#111111"},"encoding":{"text":{"field":"t"}}}
 ]},
{"width":197,"height":130,
 "data":{"values":[{"x":220,"acc":0.218,"t":"STL-10"}]},
 "encoding":{"x":{"field":"x","type":"quantitative","scale":{"domain":[0,220],"nice":false},"axis":{"values":[0,50,100,150,200],"format":"d","title":null}},
  "y":{"field":"acc","type":"quantitative","scale":{"domain":[-0.02,0.218],"nice":false},"axis":{"values":[0,0.05,0.1,0.15,0.2],"format":".2f","title":null}}},
 "layer":[
  {"data":{"name":"all"},"transform":[{"filter":"datum.d === 'STL-10'"},{"fold":["Random","TypiClust","Margin","DropQuery","CoreSets","BAIT","BADGE","AlfaMix","BoSS"],"as":["m","acc"]}],
   "mark":{"type":"line","clip":true,"strokeWidth":1.5},
   "encoding":{"color":{"field":"m","type":"nominal","scale":{"domain":["Random","Margin","CoreSets","BADGE","BoSS","TypiClust","DropQuery","BAIT","AlfaMix"],"range":["#000000","#9dd6c4","#e8812f","#df5b5b","#000000","#e6b566","#9d7bb0","#4f9a52","#6486c8"]},"legend":{"title":null}},
    "strokeDash":{"field":"m","type":"nominal","scale":{"domain":["Random","Margin","CoreSets","BADGE","BoSS","TypiClust","DropQuery","BAIT","AlfaMix"],"range":[[1,0],[1,0],[1,0],[1,0],[8,2.5,1.5,2.5],[1,0],[1,0],[1,0],[1,0]]},"legend":{"title":null}}}},
  {"mark":{"type":"text","align":"right","baseline":"alphabetic","dx":-7,"dy":26,"font":"Liberation Serif","fontSize":23,"color":"#ffffff","stroke":"#ffffff","strokeWidth":6,"strokeJoin":"round"},"encoding":{"text":{"field":"t"}}},
  {"mark":{"type":"text","align":"right","baseline":"alphabetic","dx":-7,"dy":26,"font":"Liberation Serif","fontSize":23,"color":"#111111"},"encoding":{"text":{"field":"t"}}}
 ]},
{"width":197,"height":130,
 "data":{"values":[{"x":440,"acc":0.194,"t":"Snacks"}]},
 "encoding":{"x":{"field":"x","type":"quantitative","scale":{"domain":[0,440],"nice":false},"axis":{"values":[0,100,200,300,400],"format":"d","title":null}},
  "y":{"field":"acc","type":"quantitative","scale":{"domain":[-0.02,0.194],"nice":false},"axis":{"values":[0,0.05,0.1,0.15],"format":".2f","title":null}}},
 "layer":[
  {"data":{"name":"all"},"transform":[{"filter":"datum.d === 'Snacks'"},{"fold":["Random","TypiClust","Margin","DropQuery","CoreSets","BAIT","BADGE","AlfaMix","BoSS"],"as":["m","acc"]}],
   "mark":{"type":"line","clip":true,"strokeWidth":1.5},
   "encoding":{"color":{"field":"m","type":"nominal","scale":{"domain":["Random","Margin","CoreSets","BADGE","BoSS","TypiClust","DropQuery","BAIT","AlfaMix"],"range":["#000000","#9dd6c4","#e8812f","#df5b5b","#000000","#e6b566","#9d7bb0","#4f9a52","#6486c8"]},"legend":{"title":null}},
    "strokeDash":{"field":"m","type":"nominal","scale":{"domain":["Random","Margin","CoreSets","BADGE","BoSS","TypiClust","DropQuery","BAIT","AlfaMix"],"range":[[1,0],[1,0],[1,0],[1,0],[8,2.5,1.5,2.5],[1,0],[1,0],[1,0],[1,0]]},"legend":{"title":null}}}},
  {"mark":{"type":"text","align":"right","baseline":"alphabetic","dx":-7,"dy":26,"font":"Liberation Serif","fontSize":23,"color":"#ffffff","stroke":"#ffffff","strokeWidth":6,"strokeJoin":"round"},"encoding":{"text":{"field":"t"}}},
  {"mark":{"type":"text","align":"right","baseline":"alphabetic","dx":-7,"dy":26,"font":"Liberation Serif","fontSize":23,"color":"#111111"},"encoding":{"text":{"field":"t"}}}
 ]},
{"width":197,"height":130,
 "data":{"values":[{"x":550,"acc":0.153,"t":"Flowers102"}]},
 "encoding":{"x":{"field":"x","type":"quantitative","scale":{"domain":[0,550],"nice":false},"axis":{"values":[0,100,200,300,400,500],"format":"d","title":null}},
  "y":{"field":"acc","type":"quantitative","scale":{"domain":[-0.02,0.153],"nice":false},"axis":{"values":[0,0.05,0.1,0.15],"format":".2f","title":null}}},
 "layer":[
  {"data":{"name":"all"},"transform":[{"filter":"datum.d === 'Flowers102'"},{"fold":["Random","TypiClust","Margin","DropQuery","CoreSets","BAIT","BADGE","AlfaMix","BoSS"],"as":["m","acc"]}],
   "mark":{"type":"line","clip":true,"strokeWidth":1.5},
   "encoding":{"color":{"field":"m","type":"nominal","scale":{"domain":["Random","Margin","CoreSets","BADGE","BoSS","TypiClust","DropQuery","BAIT","AlfaMix"],"range":["#000000","#9dd6c4","#e8812f","#df5b5b","#000000","#e6b566","#9d7bb0","#4f9a52","#6486c8"]},"legend":{"title":null}},
    "strokeDash":{"field":"m","type":"nominal","scale":{"domain":["Random","Margin","CoreSets","BADGE","BoSS","TypiClust","DropQuery","BAIT","AlfaMix"],"range":[[1,0],[1,0],[1,0],[1,0],[8,2.5,1.5,2.5],[1,0],[1,0],[1,0],[1,0]]},"legend":{"title":null}}}},
  {"mark":{"type":"text","align":"right","baseline":"alphabetic","dx":-7,"dy":26,"font":"Liberation Serif","fontSize":23,"color":"#ffffff","stroke":"#ffffff","strokeWidth":6,"strokeJoin":"round"},"encoding":{"text":{"field":"t"}}},
  {"mark":{"type":"text","align":"right","baseline":"alphabetic","dx":-7,"dy":26,"font":"Liberation Serif","fontSize":23,"color":"#111111"},"encoding":{"text":{"field":"t"}}}
 ]},
{"width":197,"height":130,
 "data":{"values":[{"x":330,"acc":0.096,"t":"Dopanim"}]},
 "encoding":{"x":{"field":"x","type":"quantitative","scale":{"domain":[0,330],"nice":false},"axis":{"values":[0,100,200,300],"format":"d","title":null}},
  "y":{"field":"acc","type":"quantitative","scale":{"domain":[-0.02,0.096],"nice":false},"axis":{"values":[-0.02,0,0.02,0.04,0.06,0.08],"format":".2f","title":null}}},
 "layer":[
  {"data":{"name":"all"},"transform":[{"filter":"datum.d === 'Dopanim'"},{"fold":["Random","TypiClust","Margin","DropQuery","CoreSets","BAIT","BADGE","AlfaMix","BoSS"],"as":["m","acc"]}],
   "mark":{"type":"line","clip":true,"strokeWidth":1.5},
   "encoding":{"color":{"field":"m","type":"nominal","scale":{"domain":["Random","Margin","CoreSets","BADGE","BoSS","TypiClust","DropQuery","BAIT","AlfaMix"],"range":["#000000","#9dd6c4","#e8812f","#df5b5b","#000000","#e6b566","#9d7bb0","#4f9a52","#6486c8"]},"legend":{"title":null}},
    "strokeDash":{"field":"m","type":"nominal","scale":{"domain":["Random","Margin","CoreSets","BADGE","BoSS","TypiClust","DropQuery","BAIT","AlfaMix"],"range":[[1,0],[1,0],[1,0],[1,0],[8,2.5,1.5,2.5],[1,0],[1,0],[1,0],[1,0]]},"legend":{"title":null}}}},
  {"mark":{"type":"text","align":"right","baseline":"alphabetic","dx":-7,"dy":26,"font":"Liberation Serif","fontSize":23,"color":"#ffffff","stroke":"#ffffff","strokeWidth":6,"strokeJoin":"round"},"encoding":{"text":{"field":"t"}}},
  {"mark":{"type":"text","align":"right","baseline":"alphabetic","dx":-7,"dy":26,"font":"Liberation Serif","fontSize":23,"color":"#111111"},"encoding":{"text":{"field":"t"}}}
 ]},
{"width":197,"height":130,
 "data":{"values":[{"x":1100,"acc":0.149,"t":"DTD"}]},
 "encoding":{"x":{"field":"x","type":"quantitative","scale":{"domain":[0,1100],"nice":false},"axis":{"values":[0,200,400,600,800,1000],"format":"d","title":"Number of Labels"}},
  "y":{"field":"acc","type":"quantitative","scale":{"domain":[-0.02,0.149],"nice":false},"axis":{"values":[0,0.05,0.1],"format":".2f","title":"Accuracy Improvement"}}},
 "layer":[
  {"data":{"name":"all"},"transform":[{"filter":"datum.d === 'DTD'"},{"fold":["Random","TypiClust","Margin","DropQuery","CoreSets","BAIT","BADGE","AlfaMix","BoSS"],"as":["m","acc"]}],
   "mark":{"type":"line","clip":true,"strokeWidth":1.5},
   "encoding":{"color":{"field":"m","type":"nominal","scale":{"domain":["Random","Margin","CoreSets","BADGE","BoSS","TypiClust","DropQuery","BAIT","AlfaMix"],"range":["#000000","#9dd6c4","#e8812f","#df5b5b","#000000","#e6b566","#9d7bb0","#4f9a52","#6486c8"]},"legend":{"title":null}},
    "strokeDash":{"field":"m","type":"nominal","scale":{"domain":["Random","Margin","CoreSets","BADGE","BoSS","TypiClust","DropQuery","BAIT","AlfaMix"],"range":[[1,0],[1,0],[1,0],[1,0],[8,2.5,1.5,2.5],[1,0],[1,0],[1,0],[1,0]]},"legend":{"title":null}}}},
  {"mark":{"type":"text","align":"right","baseline":"alphabetic","dx":-7,"dy":26,"font":"Liberation Serif","fontSize":23,"color":"#ffffff","stroke":"#ffffff","strokeWidth":6,"strokeJoin":"round"},"encoding":{"text":{"field":"t"}}},
  {"mark":{"type":"text","align":"right","baseline":"alphabetic","dx":-7,"dy":26,"font":"Liberation Serif","fontSize":23,"color":"#111111"},"encoding":{"text":{"field":"t"}}}
 ]},
{"width":197,"height":130,
 "data":{"values":[{"x":2200,"acc":0.154,"t":"Food101"}]},
 "encoding":{"x":{"field":"x","type":"quantitative","scale":{"domain":[0,2200],"nice":false},"axis":{"values":[0,500,1000,1500,2000],"format":"d","title":"Number of Labels"}},
  "y":{"field":"acc","type":"quantitative","scale":{"domain":[-0.02,0.154],"nice":false},"axis":{"values":[0,0.05,0.1,0.15],"format":".2f","title":null}}},
 "layer":[
  {"data":{"name":"all"},"transform":[{"filter":"datum.d === 'Food101'"},{"fold":["Random","TypiClust","Margin","DropQuery","CoreSets","BAIT","BADGE","AlfaMix","BoSS"],"as":["m","acc"]}],
   "mark":{"type":"line","clip":true,"strokeWidth":1.5},
   "encoding":{"color":{"field":"m","type":"nominal","scale":{"domain":["Random","Margin","CoreSets","BADGE","BoSS","TypiClust","DropQuery","BAIT","AlfaMix"],"range":["#000000","#9dd6c4","#e8812f","#df5b5b","#000000","#e6b566","#9d7bb0","#4f9a52","#6486c8"]},"legend":{"title":null}},
    "strokeDash":{"field":"m","type":"nominal","scale":{"domain":["Random","Margin","CoreSets","BADGE","BoSS","TypiClust","DropQuery","BAIT","AlfaMix"],"range":[[1,0],[1,0],[1,0],[1,0],[8,2.5,1.5,2.5],[1,0],[1,0],[1,0],[1,0]]},"legend":{"title":null}}}},
  {"mark":{"type":"text","align":"right","baseline":"alphabetic","dx":-7,"dy":26,"font":"Liberation Serif","fontSize":23,"color":"#ffffff","stroke":"#ffffff","strokeWidth":6,"strokeJoin":"round"},"encoding":{"text":{"field":"t"}}},
  {"mark":{"type":"text","align":"right","baseline":"alphabetic","dx":-7,"dy":26,"font":"Liberation Serif","fontSize":23,"color":"#111111"},"encoding":{"text":{"field":"t"}}}
 ]},
{"width":197,"height":130,
 "data":{"values":[{"x":2200,"acc":0.178,"t":"CIFAR-100"}]},
 "encoding":{"x":{"field":"x","type":"quantitative","scale":{"domain":[0,2200],"nice":false},"axis":{"values":[0,500,1000,1500,2000],"format":"d","title":"Number of Labels"}},
  "y":{"field":"acc","type":"quantitative","scale":{"domain":[-0.02,0.178],"nice":false},"axis":{"values":[0,0.05,0.1,0.15],"format":".2f","title":null}}},
 "layer":[
  {"data":{"name":"all"},"transform":[{"filter":"datum.d === 'CIFAR-100'"},{"fold":["Random","TypiClust","Margin","DropQuery","CoreSets","BAIT","BADGE","AlfaMix","BoSS"],"as":["m","acc"]}],
   "mark":{"type":"line","clip":true,"strokeWidth":1.5},
   "encoding":{"color":{"field":"m","type":"nominal","scale":{"domain":["Random","Margin","CoreSets","BADGE","BoSS","TypiClust","DropQuery","BAIT","AlfaMix"],"range":["#000000","#9dd6c4","#e8812f","#df5b5b","#000000","#e6b566","#9d7bb0","#4f9a52","#6486c8"]},"legend":{"title":null}},
    "strokeDash":{"field":"m","type":"nominal","scale":{"domain":["Random","Margin","CoreSets","BADGE","BoSS","TypiClust","DropQuery","BAIT","AlfaMix"],"range":[[1,0],[1,0],[1,0],[1,0],[8,2.5,1.5,2.5],[1,0],[1,0],[1,0],[1,0]]},"legend":{"title":null}}}},
  {"mark":{"type":"text","align":"right","baseline":"alphabetic","dx":-7,"dy":26,"font":"Liberation Serif","fontSize":23,"color":"#ffffff","stroke":"#ffffff","strokeWidth":6,"strokeJoin":"round"},"encoding":{"text":{"field":"t"}}},
  {"mark":{"type":"text","align":"right","baseline":"alphabetic","dx":-7,"dy":26,"font":"Liberation Serif","fontSize":23,"color":"#111111"},"encoding":{"text":{"field":"t"}}}
 ]},
{"width":197,"height":130,
 "data":{"values":[{"x":4400,"acc":0.195,"t":"Tiny ImageNet"}]},
 "encoding":{"x":{"field":"x","type":"quantitative","scale":{"domain":[0,4400],"nice":false},"axis":{"values":[0,1000,2000,3000,4000],"format":"d","title":"Number of Labels"}},
  "y":{"field":"acc","type":"quantitative","scale":{"domain":[-0.02,0.195],"nice":false},"axis":{"values":[0,0.05,0.1,0.15],"format":".2f","title":null}}},
 "layer":[
  {"data":{"name":"all"},"transform":[{"filter":"datum.d === 'Tiny ImageNet'"},{"fold":["Random","TypiClust","Margin","DropQuery","CoreSets","BAIT","BADGE","AlfaMix","BoSS"],"as":["m","acc"]}],
   "mark":{"type":"line","clip":true,"strokeWidth":1.5},
   "encoding":{"color":{"field":"m","type":"nominal","scale":{"domain":["Random","Margin","CoreSets","BADGE","BoSS","TypiClust","DropQuery","BAIT","AlfaMix"],"range":["#000000","#9dd6c4","#e8812f","#df5b5b","#000000","#e6b566","#9d7bb0","#4f9a52","#6486c8"]},"legend":{"title":null}},
    "strokeDash":{"field":"m","type":"nominal","scale":{"domain":["Random","Margin","CoreSets","BADGE","BoSS","TypiClust","DropQuery","BAIT","AlfaMix"],"range":[[1,0],[1,0],[1,0],[1,0],[8,2.5,1.5,2.5],[1,0],[1,0],[1,0],[1,0]]},"legend":{"title":null}}}},
  {"mark":{"type":"text","align":"right","baseline":"alphabetic","dx":-7,"dy":26,"font":"Liberation Serif","fontSize":23,"color":"#ffffff","stroke":"#ffffff","strokeWidth":6,"strokeJoin":"round"},"encoding":{"text":{"field":"t"}}},
  {"mark":{"type":"text","align":"right","baseline":"alphabetic","dx":-7,"dy":26,"font":"Liberation Serif","fontSize":23,"color":"#111111"},"encoding":{"text":{"field":"t"}}}
 ]},
{"width":197,"height":130,
 "data":{"values":[{"x":22000,"acc":0.158,"t":"ImageNet"}]},
 "encoding":{"x":{"field":"x","type":"quantitative","scale":{"domain":[0,22000],"nice":false},"axis":{"values":[0,5000,10000,15000,20000],"format":"d","title":"Number of Labels"}},
  "y":{"field":"acc","type":"quantitative","scale":{"domain":[-0.02,0.158],"nice":false},"axis":{"values":[0,0.05,0.1,0.15],"format":".2f","title":null}}},
 "layer":[
  {"data":{"name":"all"},"transform":[{"filter":"datum.d === 'ImageNet'"},{"fold":["Random","TypiClust","Margin","DropQuery","CoreSets","BAIT","BADGE","AlfaMix","BoSS"],"as":["m","acc"]}],
   "mark":{"type":"line","clip":true,"strokeWidth":1.5},
   "encoding":{"color":{"field":"m","type":"nominal","scale":{"domain":["Random","Margin","CoreSets","BADGE","BoSS","TypiClust","DropQuery","BAIT","AlfaMix"],"range":["#000000","#9dd6c4","#e8812f","#df5b5b","#000000","#e6b566","#9d7bb0","#4f9a52","#6486c8"]},"legend":{"title":null}},
    "strokeDash":{"field":"m","type":"nominal","scale":{"domain":["Random","Margin","CoreSets","BADGE","BoSS","TypiClust","DropQuery","BAIT","AlfaMix"],"range":[[1,0],[1,0],[1,0],[1,0],[8,2.5,1.5,2.5],[1,0],[1,0],[1,0],[1,0]]},"legend":{"title":null}}}},
  {"mark":{"type":"text","align":"right","baseline":"alphabetic","dx":-7,"dy":26,"font":"Liberation Serif","fontSize":23,"color":"#ffffff","stroke":"#ffffff","strokeWidth":6,"strokeJoin":"round"},"encoding":{"text":{"field":"t"}}},
  {"mark":{"type":"text","align":"right","baseline":"alphabetic","dx":-7,"dy":26,"font":"Liberation Serif","fontSize":23,"color":"#111111"},"encoding":{"text":{"field":"t"}}}
 ]}
],
"config": {
 "font": "Liberation Serif",
 "view": {"stroke": "#d3d3d3", "strokeWidth": 1.2},
 "axis": {"labelFont": "DejaVu Sans", "labelFontSize": 10, "labelColor": "#262626", "tickColor": "#262626", "tickSize": 4, "tickWidth": 0.9, "labelPadding": 3, "domain": false, "grid": true, "gridColor": "#bdbdbd", "gridDash": [2, 2], "gridWidth": 0.8, "titleFont": "Liberation Serif", "titleFontSize": 16, "titleFontWeight": "normal", "titleColor": "#111111", "labelFlush": false, "labelOverlap": false},
 "axisY": {"titlePadding": 7},
 "axisX": {"titlePadding": 5},
 "legend": {"orient": "none", "legendX": 302, "legendY": -62, "columns": 5, "direction": "horizontal", "symbolType": "stroke", "symbolSize": 576, "symbolStrokeWidth": 2, "labelFont": "Liberation Serif", "labelFontSize": 14.5, "labelColor": "#111111", "labelOffset": 12, "columnPadding": 20, "rowPadding": 2, "padding": 6, "strokeColor": "#cccccc", "fillColor": "#ffffff", "cornerRadius": 3}
}
}
